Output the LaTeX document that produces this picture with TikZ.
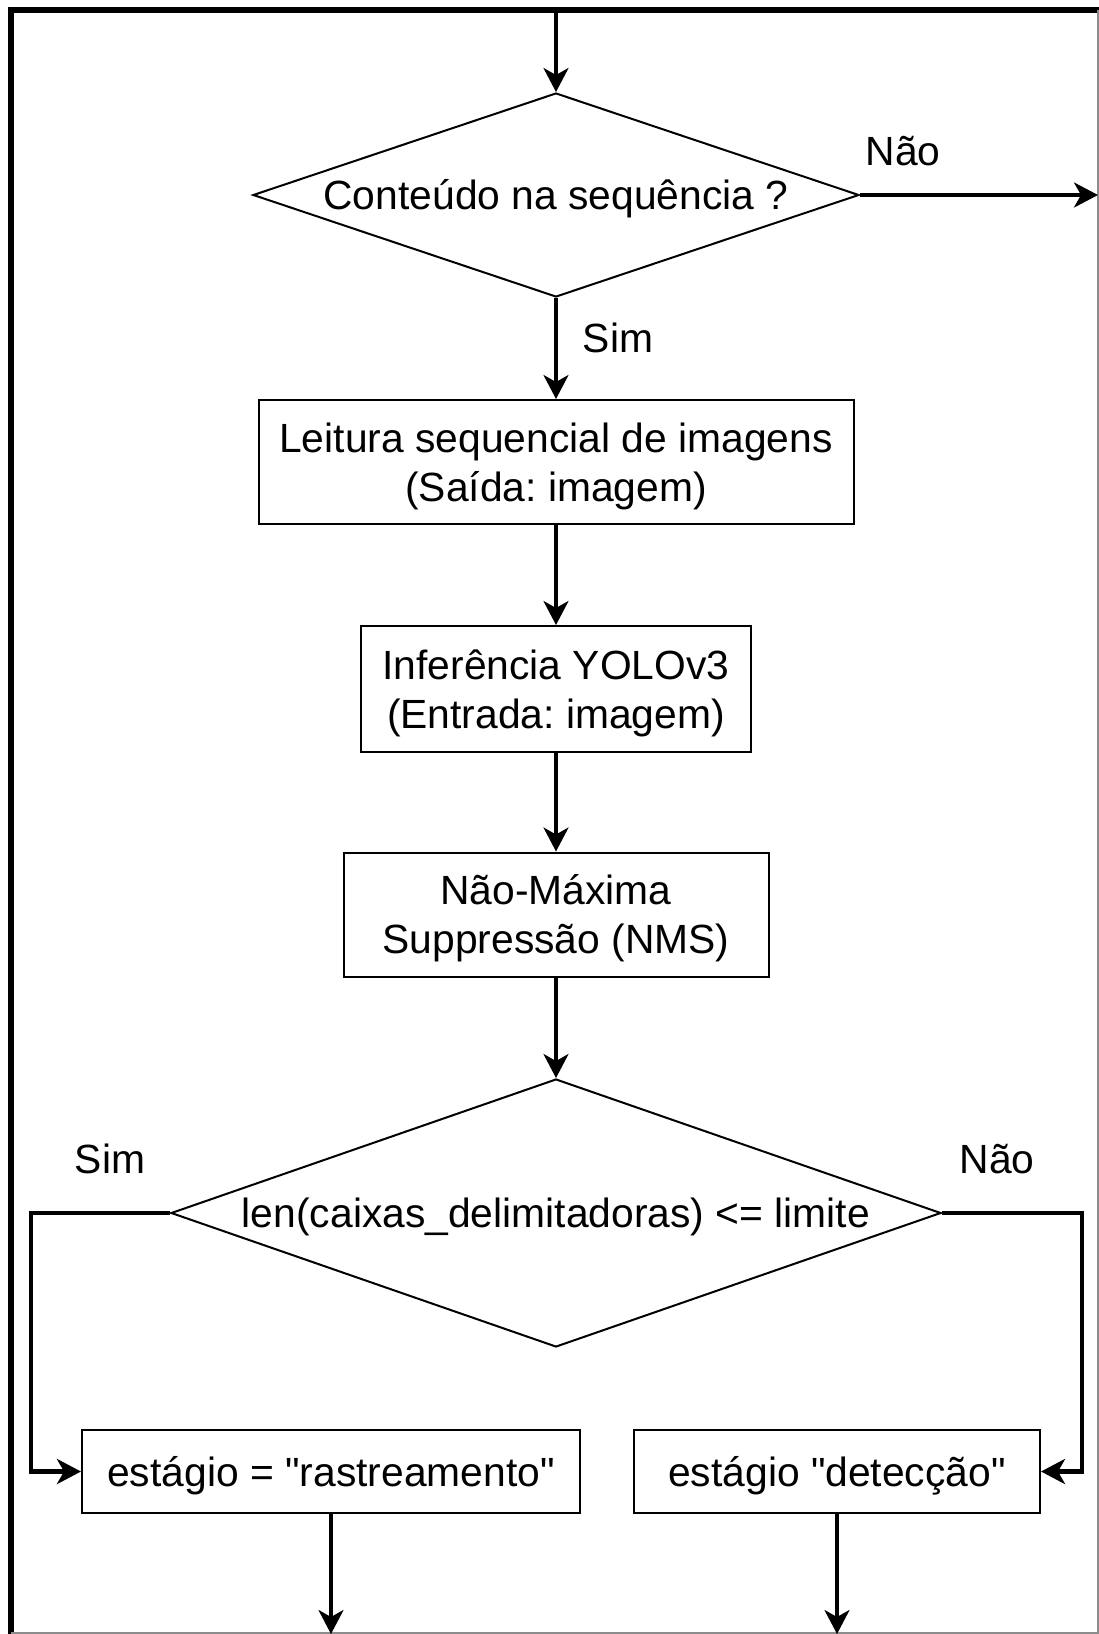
\documentclass[tikz,border=0pt]{standalone}
\usepackage{fontspec}
\setmainfont{Liberation Sans}[Ligatures=TeXOff]
\frenchspacing
\usetikzlibrary{shapes.geometric,arrows.meta}

\begin{document}
\begin{tikzpicture}[x=1pt,y=-1pt,
  every node/.style={font=\fontsize{40.8}{49}\selectfont},
  box/.style={draw=black, line width=2pt, rectangle, inner sep=0pt, align=center, text depth=0pt},
  decision/.style={draw=black, line width=2pt, diamond, aspect=3, inner sep=0pt,
    text height=29.2pt, text depth=0pt},
  conn/.style={line width=3.4pt, -{Stealth[length=24pt, width=25pt, inset=7pt]}},
  branch/.style={line width=4.2pt, -{Stealth[length=24pt, width=25pt, inset=7pt]}},
  lbl/.style={anchor=base, inner sep=0pt},
]
\useasboundingbox (0,0) rectangle (1099,1634);

% frame
\draw[line width=6pt] (11,1634) -- (11,10) -- (1099,10);
\draw[black!45, line width=1.5pt] (1098,10) -- (1098,1634);
\draw[black!45, line width=1.5pt] (11,1633) -- (1099,1633);

% shapes
\coordinate (in) at (556,13);
\node[decision, minimum width=606pt, minimum height=204pt] (d1) at (556,195) {Conteúdo na sequência ?};
\coordinate (out) at (1098,195);
\node[box, minimum width=595pt, minimum height=124pt, text height=78.2pt] (b1) at (556,462)
  {Leitura sequencial de imagens\\(Saída: imagem)};
\node[box, minimum width=390pt, minimum height=126pt, text height=78.2pt] (b2) at (556,689)
  {Inferência YOLOv3\\(Entrada: imagem)};
\node[box, minimum width=425pt, minimum height=124pt, text height=78.2pt] (b3) at (556,914.5)
  {Não-Máxima\\Suppressão (NMS)};
\node[decision, minimum width=770pt, minimum height=268pt] (d2) at (556,1213)
  {len(caixas\_delimitadoras) <= limite};
\node[box, minimum width=498pt, minimum height=83pt, text height=29.2pt] (b4) at (331,1471.5)
  {estágio = "rastreamento"};
\node[box, minimum width=406pt, minimum height=83pt, text height=29.2pt] (b5) at (837,1471.5)
  {estágio "detecção"};
\coordinate (o4) at (331,1634);
\coordinate (o5) at (837,1634);

% branch labels
\node[lbl] (nao1) at (903,165) {Não};
\node[lbl] (sim1) at (618,352) {Sim};
\node[lbl] (sim2) at (110,1173) {Sim};
\node[lbl] (nao2) at (997,1173) {Não};

% connectors
\draw[conn] (in) -- (d1.north);
\draw[conn] (d1.east) -- (out);
\draw[conn] (d1.south) -- (b1.north);
\draw[conn] (b1) -- (b2);
\draw[conn] (b2) -- (b3);
\draw[conn] (b3) -- (d2);
\draw[branch] (d2.west) -| ([xshift=-50pt]b4.west) -- (b4.west);
\draw[branch] (d2.east) -| ([xshift=41pt]b5.east) -- (b5.east);
\draw[conn] (b4.south) -- (o4);
\draw[conn] (b5.south) -- (o5);
\end{tikzpicture}
\end{document}
